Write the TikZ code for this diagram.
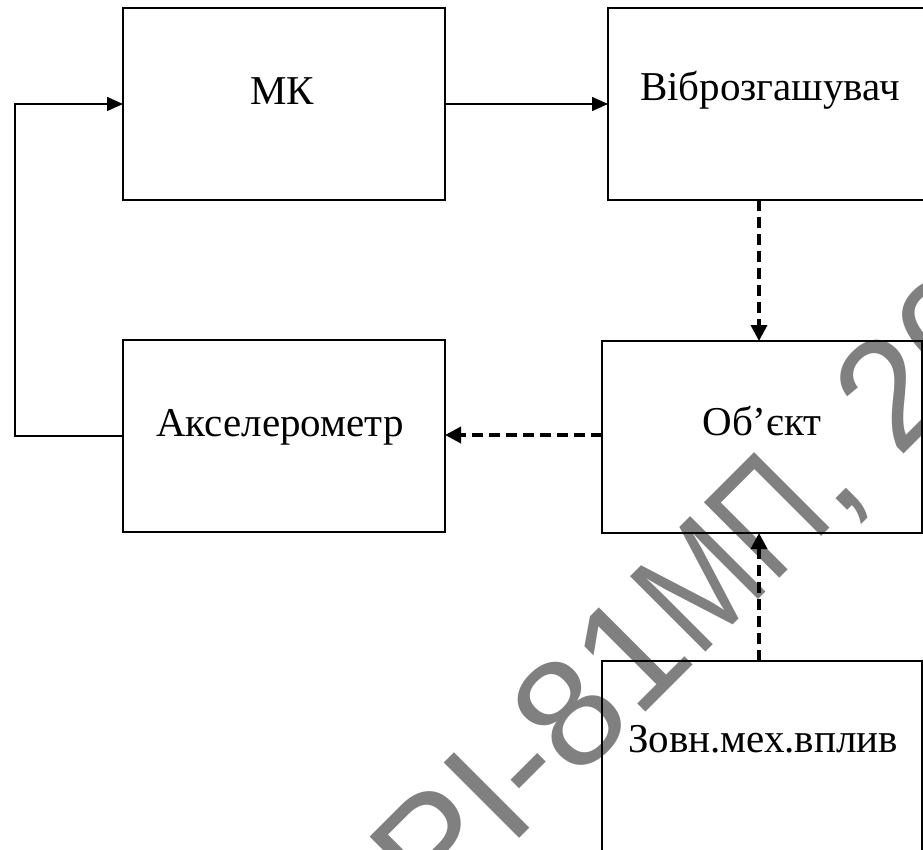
\documentclass[tikz,border=0pt]{standalone}
\usepackage{fontspec}
\setmainfont{Liberation Serif}
\newfontfamily\wmfont{Liberation Sans}
\usetikzlibrary{arrows.meta}
\tikzset{
  box/.style={draw, line width=1.5pt, inner sep=0pt, outer sep=0pt},
  lbl/.style={anchor=base, inner sep=0pt, font=\fontsize{41}{49}\selectfont},
  wmark/.style={text=gray, inner sep=0pt, font=\wmfont\fontsize{155}{180}\selectfont},
  solidarrow/.style={line width=1.5pt, -{Triangle[length=16pt,width=14pt]}},
  dasharrow/.style={line width=3.5pt, dash pattern=on 11pt off 6pt, -{Triangle[length=16pt,width=16pt]}}
}
\begin{document}
\begin{tikzpicture}[x=1pt,y=-1pt]
\useasboundingbox (0,0) rectangle (923,850);
\clip (0,0) rectangle (923,850);
\fill[white] (0,0) rectangle (923,850);
% watermark
\node[wmark, rotate=45, anchor=base west] (wm) at (436,922) {РІ-81\scalebox{0.82}[1]{МП}, 20};
% boxes
\node[box, minimum width=322pt, minimum height=192pt] (mk)  at (284,104) {};
\node[box, minimum width=322pt, minimum height=192pt] (vib) at (769,104) {};
\node[box, minimum width=322pt, minimum height=192pt] (aks) at (284,436) {};
\node[box, minimum width=320pt, minimum height=192pt] (obj) at (762,437) {};
\node[box, minimum width=320pt, minimum height=192pt] (zov) at (762,757) {};
% labels
\node[lbl] (tmk)  at (282,105) {МК};
\node[lbl] (tvib) at (770,101) {Віброзгашувач};
\node[lbl] (taks) at (280,436) {Акселерометр};
\node[lbl] (tobj) at (762,435) {Об’єкт};
\node[lbl] (tzov) at (763,752) {Зовн.мех.вплив};
% connectors
\coordinate (lft) at (15,0);
\coordinate (xd) at (759,0);
\coordinate (yd) at (0,435);
\draw[solidarrow] (aks.west) -- (aks.west -| lft) |- (mk.west);
\draw[solidarrow] (mk.east) -- (vib.west);
\draw[dasharrow] (vib.south -| xd) -- (obj.north -| xd);
\draw[dasharrow] (obj.west |- yd) -- (aks.east |- yd);
\draw[dasharrow] (zov.north -| xd) -- (obj.south -| xd);
\end{tikzpicture}
\end{document}
